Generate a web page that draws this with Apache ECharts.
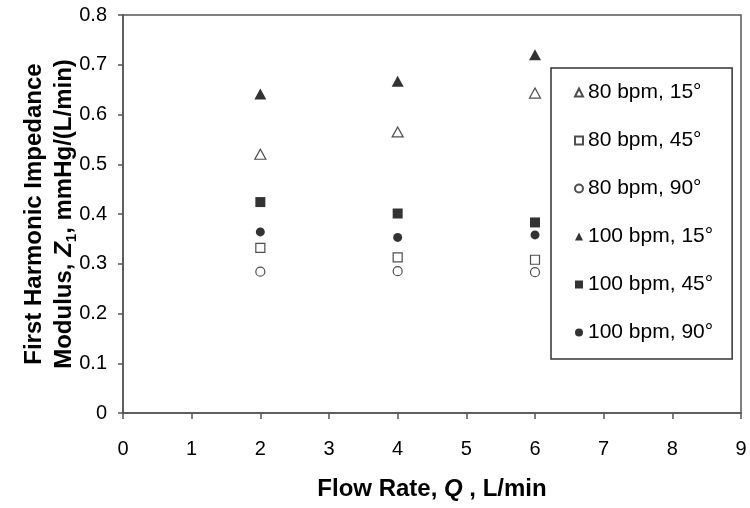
<!DOCTYPE html>
<html><head><meta charset="utf-8">
<script src="https://cdn.jsdelivr.net/npm/echarts@6/dist/echarts.min.js"></script>
<style>html,body{margin:0;padding:0;background:#fff}#c{width:750px;height:508px}</style>
</head><body><div id="c"></div>
<script>
// Flow rate (L/min) at which each condition was measured
const flowRates = [2, 4, 6];
// First harmonic impedance modulus Z1, mmHg/(L/min)
const z80bpm15deg  = [0.520, 0.565, 0.643];
const z80bpm45deg  = [0.332, 0.313, 0.308];
const z80bpm90deg  = [0.284, 0.285, 0.283];
const z100bpm15deg = [0.641, 0.667, 0.720];
const z100bpm45deg = [0.424, 0.401, 0.383];
const z100bpm90deg = [0.364, 0.353, 0.358];
const seriesNames = ['80 bpm, 15°', '80 bpm, 45°', '80 bpm, 90°', '100 bpm, 15°', '100 bpm, 45°', '100 bpm, 90°'];

const FONT = '"Liberation Sans", Arial, sans-serif';
const openStyle = { color: '#ffffff', borderColor: '#222', borderWidth: 1.2 };
const fillStyle = { color: '#000000', borderWidth: 0 };

function pts(vals) { return flowRates.map((x, i) => [x, vals[i]]); }

const defs = [
  { vals: z80bpm15deg,  symbol: 'triangle', size: [11, 10], style: openStyle },
  { vals: z80bpm45deg,  symbol: 'rect',     size: 9,        style: openStyle },
  { vals: z80bpm90deg,  symbol: 'circle',   size: 9,        style: openStyle },
  { vals: z100bpm15deg, symbol: 'triangle', size: [12, 11], style: fillStyle },
  { vals: z100bpm45deg, symbol: 'rect',     size: 10,       style: fillStyle },
  { vals: z100bpm90deg, symbol: 'circle',   size: 9,        style: fillStyle }
];

const chart = echarts.init(document.getElementById('c'), null, { renderer: 'canvas' });
chart.setOption({
  animation: false,
  backgroundColor: '#ffffff',
  grid: { left: 123, right: 9, top: 15, bottom: 95, show: true, borderColor: '#555', borderWidth: 1.5, backgroundColor: 'transparent' },
  legend: {
    orient: 'vertical',
    left: 551, top: 68,
    padding: [14, 19, 16, 23],
    itemWidth: 8, itemHeight: 8,
    itemGap: 27,
    itemTextGap: 12,
    backgroundColor: '#fff',
    borderColor: '#333', borderWidth: 1.5,
    data: seriesNames,
    textStyle: { fontFamily: FONT, fontSize: 21, color: '#000', height: 21, lineHeight: 21 }
  },
  xAxis: {
    type: 'value', min: 0, max: 9, interval: 1,
    name: 'Flow Rate, {i|Q} , L/min',
    nameLocation: 'middle', nameGap: 64, nameMoveOverlap: false,
    nameTextStyle: { fontFamily: FONT, fontSize: 24, fontWeight: 'bold', color: '#000',
      rich: { i: { fontFamily: FONT, fontSize: 24, fontWeight: 'bold', fontStyle: 'italic', color: '#000' } } },
    axisLine: { show: true, lineStyle: { color: '#555', width: 1.5 } },
    axisTick: { show: true, inside: false, length: 6, lineStyle: { color: '#555', width: 1.5 } },
    axisLabel: { fontFamily: FONT, fontSize: 20, color: '#000', margin: 26 },
    splitLine: { show: false }
  },
  yAxis: {
    type: 'value', min: 0, max: 0.8, interval: 0.1,
    name: 'First Harmonic Impedance\nModulus, {i|Z}{s|1}, mmHg/(L/min)',
    nameLocation: 'middle', nameGap: 44, nameMoveOverlap: false,
    nameTextStyle: { fontFamily: FONT, fontSize: 24, fontWeight: 'bold', color: '#000', lineHeight: 30,
      rich: {
        i: { fontFamily: FONT, fontSize: 24, fontWeight: 'bold', fontStyle: 'italic', color: '#000', lineHeight: 30 },
        s: { fontFamily: FONT, fontSize: 15, fontWeight: 'bold', color: '#000', lineHeight: 19, verticalAlign: 'bottom' }
      } },
    axisLine: { show: true, lineStyle: { color: '#555', width: 1.5 } },
    axisTick: { show: true, inside: false, length: 5, lineStyle: { color: '#555', width: 1.5 } },
    axisLabel: { fontFamily: FONT, fontSize: 20, color: '#000', margin: 16 },
    splitLine: { show: false }
  },
  series: defs.map((d, k) => ({
    name: seriesNames[k],
    type: 'scatter',
    symbol: d.symbol,
    symbolSize: d.size,
    itemStyle: d.style,
    emphasis: { disabled: true },
    data: pts(d.vals)
  }))
});
</script>
</body></html>
